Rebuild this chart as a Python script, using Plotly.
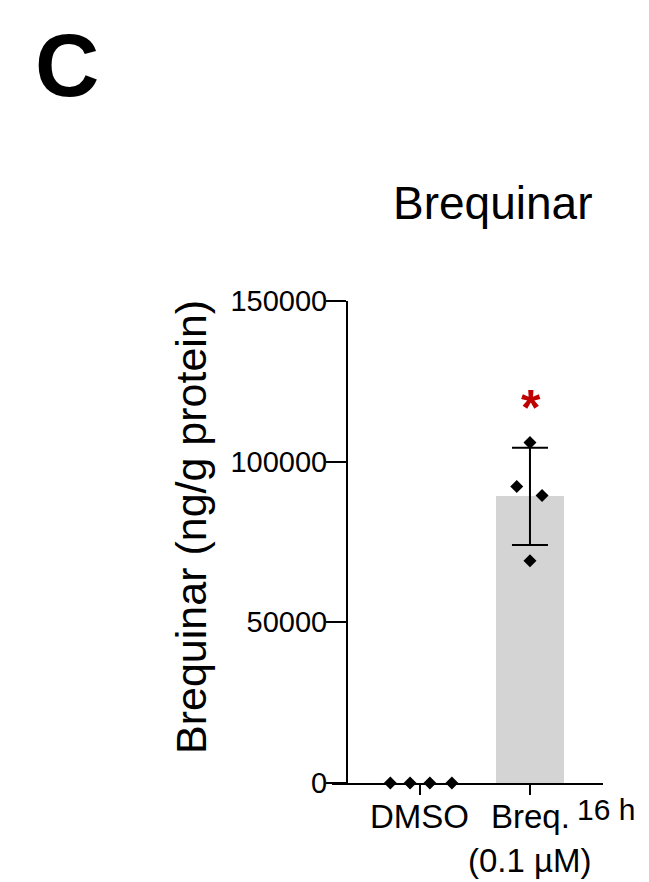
import plotly.graph_objects as go

# ---- data ----
categories = ["DMSO", "Breq."]
sub_label = "(0.1 µM)"
time_label = "16 h"
cat_pos = [0, 1]
bar_means = [0, 89200]
bar_sd = [0, 15100]
dmso_points = [0, 0, 0, 0]
dmso_jitter = [-0.27, -0.09, 0.09, 0.29]
breq_points = [106000, 92300, 89500, 69200]
breq_jitter = [0.0, -0.12, 0.11, 0.0]
y_ticks = [0, 50000, 100000, 150000]

W, H = 649, 882
OFF = 8  # page body margin
FONT = "Liberation Sans, Arial, sans-serif"

def px_x(p):
    return (p - OFF) / W

def px_y(p):
    return 1 - (p - OFF) / H

fig = go.Figure()

# bars
fig.add_trace(go.Bar(
    x=cat_pos, y=bar_means, width=0.62,
    marker=dict(color="#D4D4D4", line=dict(width=0)),
    showlegend=False, hoverinfo="skip",
))

# error bar (Breq. only)
fig.add_trace(go.Scatter(
    x=[cat_pos[1]], y=[bar_means[1]], mode="markers",
    marker=dict(size=1, color="rgba(0,0,0,0)"),
    error_y=dict(type="data", array=[bar_sd[1]], visible=True,
                 color="black", thickness=2, width=18),
    showlegend=False, hoverinfo="skip",
))

# individual points
fig.add_trace(go.Scatter(
    x=[cat_pos[0] + j for j in dmso_jitter], y=dmso_points, mode="markers",
    marker=dict(symbol="diamond", size=10, color="black"),
    showlegend=False, cliponaxis=False,
))
fig.add_trace(go.Scatter(
    x=[cat_pos[1] + j for j in breq_jitter], y=breq_points, mode="markers",
    marker=dict(symbol="diamond", size=10, color="black"),
    showlegend=False, cliponaxis=False,
))

annotations = []
# panel letter
annotations.append(dict(text="<b>C</b>", xref="paper", yref="paper",
                        x=px_x(33), y=px_y(65), xanchor="left", yanchor="middle",
                        showarrow=False, font=dict(family=FONT, size=89, color="black")))
# title
annotations.append(dict(text="Brequinar", xref="paper", yref="paper",
                        x=px_x(492), y=px_y(203), xanchor="center", yanchor="middle",
                        showarrow=False, font=dict(family=FONT, size=46, color="black")))
# y-axis title
annotations.append(dict(text="Brequinar (ng/g protein)", xref="paper", yref="paper",
                        x=px_x(191), y=px_y(527), xanchor="center", yanchor="middle",
                        textangle=-90, showarrow=False,
                        font=dict(family=FONT, size=43, color="black")))
# x tick labels
annotations.append(dict(text=categories[0], xref="x", yref="paper",
                        x=cat_pos[0], y=px_y(816), xanchor="center", yanchor="middle",
                        showarrow=False, font=dict(family=FONT, size=33, color="black")))
annotations.append(dict(text=categories[1], xref="x", yref="paper",
                        x=cat_pos[1], xshift=1, y=px_y(816), xanchor="center", yanchor="middle",
                        showarrow=False, font=dict(family=FONT, size=33, color="black")))
annotations.append(dict(text=sub_label, xref="x", yref="paper",
                        x=cat_pos[1], y=px_y(860), xanchor="center", yanchor="middle",
                        showarrow=False, font=dict(family=FONT, size=33, color="black")))
annotations.append(dict(text=time_label, xref="paper", yref="paper",
                        x=px_x(606), y=px_y(809), xanchor="center", yanchor="middle",
                        showarrow=False, font=dict(family=FONT, size=30, color="black")))
# significance star
annotations.append(dict(text="<b>*</b>", xref="x", yref="y",
                        x=cat_pos[1], xshift=1, y=bar_means[1] + bar_sd[1], yshift=40,
                        xanchor="center", yanchor="middle",
                        showarrow=False, font=dict(family=FONT, size=50, color="#C00000")))

fig.update_layout(
    width=W, height=H,
    margin=dict(l=0, r=0, t=0, b=0),
    paper_bgcolor="white", plot_bgcolor="white",
    bargap=0, showlegend=False,
    annotations=annotations,
    xaxis=dict(
        domain=[px_x(332), px_x(603)],
        range=[-0.8, 1.664],
        tickvals=cat_pos, ticktext=["", ""],
        ticks="outside", ticklen=10, tickwidth=2, tickcolor="black",
        showline=True, linecolor="black", linewidth=2,
        showgrid=False, zeroline=False, automargin=False,
    ),
    yaxis=dict(
        domain=[px_y(783), px_y(301)],
        range=[0, 150000],
        anchor="free", position=px_x(347),
        tickvals=y_ticks, ticktext=[str(v) for v in y_ticks],
        ticks="outside", ticklen=20, tickwidth=2, tickcolor="black",
        ticklabelstandoff=-7,
        showline=True, linecolor="black", linewidth=2,
        showgrid=False, zeroline=False, automargin=False,
        tickfont=dict(family=FONT, size=29, color="black"),
    ),
)

fig.write_html("out.html")
